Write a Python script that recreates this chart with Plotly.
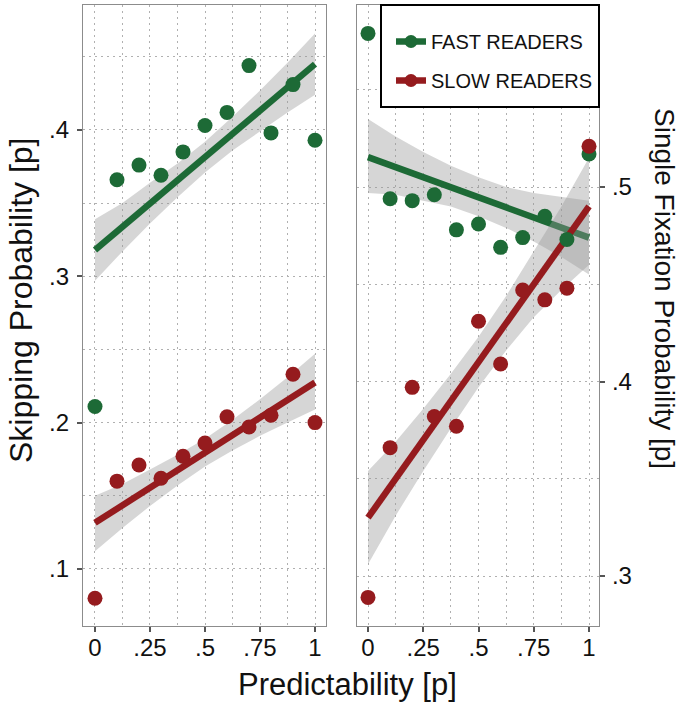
import plotly.graph_objects as go

# ---------------- data ----------------
pred = [0, 0.1, 0.2, 0.3, 0.4, 0.5, 0.6, 0.7, 0.8, 0.9, 1.0]

skip_fast = [0.211, 0.366, 0.376, 0.369, 0.385, 0.403, 0.412, 0.444, 0.398, 0.431, 0.393]
skip_slow = [0.080, 0.160, 0.171, 0.162, 0.177, 0.186, 0.204, 0.197, 0.205, 0.233, 0.200]
sfix_fast = [0.579, 0.494, 0.493, 0.496, 0.478, 0.481, 0.469, 0.474, 0.485, 0.473, 0.517]
sfix_slow = [0.289, 0.366, 0.397, 0.382, 0.377, 0.431, 0.409, 0.447, 0.442, 0.448, 0.521]

fit_x = [0, 1]
skip_fast_fit = [0.318, 0.445]
skip_slow_fit = [0.1315, 0.2274]
sfix_fast_fit = [0.5154, 0.4740]
sfix_slow_fit = [0.330, 0.490]

band_x = [0, 0.125, 0.25, 0.375, 0.5, 0.625, 0.75, 0.875, 1.0]
skip_fast_lo = [0.297, 0.317, 0.336, 0.354, 0.371, 0.386, 0.399, 0.412, 0.424]
skip_fast_hi = [0.339, 0.350, 0.364, 0.377, 0.392, 0.409, 0.427, 0.446, 0.466]
skip_slow_lo = [0.112, 0.128, 0.143, 0.157, 0.170, 0.181, 0.191, 0.200, 0.209]
skip_slow_hi = [0.150, 0.158, 0.168, 0.178, 0.189, 0.202, 0.216, 0.231, 0.247]
sfix_fast_lo = [0.497, 0.496, 0.493, 0.490, 0.485, 0.479, 0.472, 0.464, 0.455]
sfix_fast_hi = [0.535, 0.526, 0.518, 0.511, 0.505, 0.500, 0.497, 0.495, 0.493]
sfix_slow_lo = [0.306, 0.331, 0.354, 0.376, 0.397, 0.416, 0.433, 0.447, 0.460]
sfix_slow_hi = [0.354, 0.369, 0.386, 0.404, 0.423, 0.444, 0.467, 0.490, 0.515]

x_tickvals = [0, 0.25, 0.5, 0.75, 1]
x_ticktext = ["0", ".25", ".5", ".75", "1"]
skip_tickvals = [0.1, 0.2, 0.3, 0.4]
skip_ticktext = [".1", ".2", ".3", ".4"]
sfix_tickvals = [0.3, 0.4, 0.5]
sfix_ticktext = [".3", ".4", ".5"]

groups = ["FAST READERS", "SLOW READERS"]

# ---------------- style ----------------
GREEN = "#1d6a36"
RED = "#951b1e"
BAND = "rgba(153,153,153,0.4)"
FONT = "Liberation Sans, Arial, Helvetica, sans-serif"
GRIDC = "#b0b0b0"
DASH = "2px,4px"

fig = go.Figure()

def add_panel(xa, ya, fast, slow, ffit, sfit, flo, fhi, slo, shi):
    for lo, hi, fit, col in [(flo, fhi, ffit, GREEN), (slo, shi, sfit, RED)]:
        fig.add_trace(go.Scatter(x=band_x + band_x[::-1], y=hi + lo[::-1], fill="toself",
                                 fillcolor=BAND, line=dict(width=0), mode="lines",
                                 hoverinfo="skip", showlegend=False, xaxis=xa, yaxis=ya))
        fig.add_trace(go.Scatter(x=fit_x, y=fit, mode="lines", line=dict(color=col, width=6.5),
                                 showlegend=False, xaxis=xa, yaxis=ya))
    for vals, col in [(fast, GREEN), (slow, RED)]:
        fig.add_trace(go.Scatter(x=pred, y=vals, mode="markers",
                                 marker=dict(color=col, size=15, line=dict(width=0)),
                                 showlegend=False, xaxis=xa, yaxis=ya))

add_panel("x", "y", skip_fast, skip_slow, skip_fast_fit, skip_slow_fit,
          skip_fast_lo, skip_fast_hi, skip_slow_lo, skip_slow_hi)
add_panel("x2", "y2", sfix_fast, sfix_slow, sfix_fast_fit, sfix_slow_fit,
          sfix_fast_lo, sfix_fast_hi, sfix_slow_lo, sfix_slow_hi)

# legend entries
for name, col in zip(groups, [GREEN, RED]):
    fig.add_trace(go.Scatter(x=[None], y=[None], mode="lines+markers", name=name,
                             line=dict(color=col, width=6.5),
                             marker=dict(color=col, size=13),
                             legendgroup=name, xaxis="x2", yaxis="y2"))

W, H = 685, 708
def px(v):
    return v / W
def py(v):
    return 1 - v / H

tickfont = dict(family=FONT, size=24, color="#111111")
base = dict(ticks="outside", ticklen=5, tickwidth=1.5, tickcolor="#555555",
            showline=True, linecolor="#8c8c8c", linewidth=1.2, mirror=True,
            zeroline=False, tickfont=tickfont,
            showgrid=True, gridcolor=GRIDC, griddash=DASH, gridwidth=1)

def minor(vals):
    return dict(tickvals=vals, showgrid=True, gridcolor=GRIDC, griddash=DASH, ticks="")

ydom = [py(626), py(5)]

fig.update_layout(
    width=W, height=H,
    margin=dict(l=0, r=0, t=0, b=0),
    plot_bgcolor="white", paper_bgcolor="white",
    font=dict(family=FONT, color="#111111"),
    xaxis=dict(domain=[px(83), px(326)], range=[-0.0545, 1.05], anchor="y",
               tickvals=x_tickvals, ticktext=x_ticktext, ticklabelstandoff=-5,
               minor=minor([0.125, 0.375, 0.625, 0.875]), **base),
    xaxis2=dict(domain=[px(357), px(599)], range=[-0.0498, 1.0452], anchor="y2",
                tickvals=x_tickvals, ticktext=x_ticktext, ticklabelstandoff=-5,
                minor=minor([0.125, 0.375, 0.625, 0.875]), **base),
    yaxis=dict(domain=ydom, range=[0.061, 0.4854], anchor="x",
               tickvals=skip_tickvals, ticktext=skip_ticktext, ticklabelstandoff=3,
               minor=minor([0.15, 0.25, 0.35, 0.45]), **base),
    yaxis2=dict(domain=ydom, range=[0.2743, 0.5936], anchor="x2", side="right",
                tickvals=sfix_tickvals, ticktext=sfix_ticktext, ticklabelstandoff=2,
                minor=minor([0.35, 0.45, 0.55]), **base),
    legend=dict(x=px(391), y=py(22), xanchor="left", yanchor="top",
                bgcolor="rgba(0,0,0,0)", borderwidth=0,
                font=dict(family=FONT, size=20, color="#111111"),
                itemwidth=30, tracegroupgap=10, traceorder="grouped"),
    showlegend=True,
)

# legend box
fig.add_shape(type="rect", xref="paper", yref="paper",
              x0=px(381), x1=px(599), y0=py(107), y1=py(5),
              line=dict(color="black", width=2), fillcolor="white", layer="above")

# axis titles
fig.add_annotation(text="Predictability [p]", xref="paper", yref="paper",
                   x=px(348), y=py(684), xanchor="center", yanchor="middle", showarrow=False,
                   font=dict(family=FONT, size=31, color="#111111"))
fig.add_annotation(text="Skipping Probability [p]", xref="paper", yref="paper",
                   x=px(21), y=py(300), xanchor="center", yanchor="middle",
                   showarrow=False, textangle=-90,
                   font=dict(family=FONT, size=32, color="#111111"))
fig.add_annotation(text="Single Fixation Probability [p]", xref="paper", yref="paper",
                   x=px(665), y=py(288), xanchor="center", yanchor="middle",
                   showarrow=False, textangle=90,
                   font=dict(family=FONT, size=28, color="#111111"))

fig.write_html("out.html", config={"displayModeBar": False},
               post_script="document.body.style.margin='0';document.body.style.overflow='hidden';")
